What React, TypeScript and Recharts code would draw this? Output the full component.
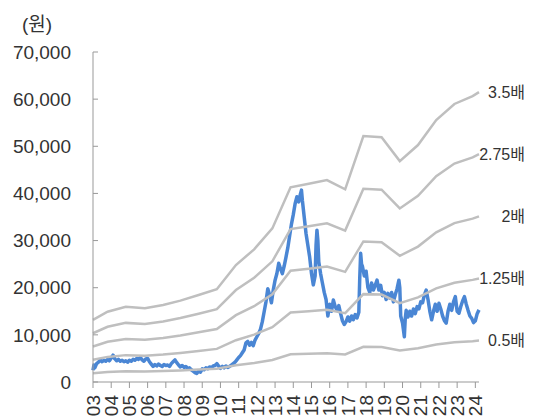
import { LineChart, Line, XAxis, YAxis, LabelList } from 'recharts';

const FONT = '"Liberation Sans", Arial, "Noto Sans CJK KR", sans-serif';

// book value per share, read at each fiscal year-end
const bpsYears = [
  2003.0, 2003.8, 2004.8, 2005.85, 2006.85, 2007.8, 2008.8, 2009.8, 2010.85, 2011.85, 2012.85,
  2013.85, 2014.85, 2015.85, 2016.85, 2017.85, 2018.85, 2019.85, 2020.85, 2021.85, 2022.85,
  2023.85, 2024.2,
];
const bpsValues = [
  3760, 4260, 4560, 4470, 4670, 4930, 5270, 5620, 7090, 8040, 9310,
  11800, 12020, 12240, 11680, 14910, 14830, 13390, 14360, 15880, 16850,
  17330, 17570,
];

// PBR multiples for the band lines
const multiples = [0.5, 1.25, 2, 2.75, 3.5];
const bandLabels = ['0.5배', '1.25배', '2배', '2.75배', '3.5배'];

// share price (원)
const priceYears = [
  2003.0, 2003.05, 2003.1, 2003.2, 2003.3, 2003.4, 2003.5, 2003.6, 2003.7, 2003.8, 2003.9,
  2004.0, 2004.1, 2004.2, 2004.3, 2004.4, 2004.5, 2004.6, 2004.7, 2004.8, 2004.9,
  2005.0, 2005.1, 2005.2, 2005.3, 2005.4, 2005.5, 2005.6, 2005.7, 2005.8, 2005.9,
  2006.0, 2006.1, 2006.2, 2006.3, 2006.4, 2006.5, 2006.6, 2006.7, 2006.8, 2006.9,
  2007.0, 2007.1, 2007.2, 2007.3, 2007.4, 2007.5, 2007.6, 2007.7, 2007.8, 2007.9,
  2008.0, 2008.1, 2008.2, 2008.3, 2008.4, 2008.5, 2008.6, 2008.7, 2008.8, 2008.9,
  2009.0, 2009.1, 2009.2, 2009.3, 2009.4, 2009.5, 2009.6, 2009.7, 2009.8, 2009.9,
  2010.0, 2010.1, 2010.2, 2010.3, 2010.4, 2010.5, 2010.6, 2010.7, 2010.8, 2010.9,
  2011.0, 2011.1, 2011.2, 2011.3, 2011.4, 2011.5, 2011.6, 2011.7, 2011.8, 2011.9,
  2012.0, 2012.1, 2012.2, 2012.3, 2012.4, 2012.5, 2012.6, 2012.7, 2012.8, 2012.9,
  2013.0, 2013.1, 2013.2, 2013.3, 2013.4, 2013.5, 2013.6, 2013.7, 2013.8, 2013.9,
  2014.0, 2014.1, 2014.2, 2014.3, 2014.4, 2014.45, 2014.5, 2014.6, 2014.7, 2014.8, 2014.9,
  2015.0, 2015.1, 2015.2, 2015.25, 2015.3, 2015.35, 2015.4, 2015.5, 2015.6, 2015.7, 2015.8, 2015.9,
  2016.0, 2016.1, 2016.2, 2016.3, 2016.4, 2016.5, 2016.6, 2016.7, 2016.8, 2016.9,
  2017.0, 2017.1, 2017.2, 2017.3, 2017.4, 2017.5, 2017.6, 2017.65, 2017.7, 2017.75, 2017.8, 2017.9,
  2018.0, 2018.1, 2018.2, 2018.3, 2018.4, 2018.5, 2018.6, 2018.7, 2018.8, 2018.9,
  2019.0, 2019.1, 2019.2, 2019.3, 2019.4, 2019.5, 2019.6, 2019.7, 2019.8, 2019.85, 2019.9,
  2020.0, 2020.1, 2020.15, 2020.2, 2020.3, 2020.4, 2020.5, 2020.6, 2020.7, 2020.8, 2020.9,
  2021.0, 2021.1, 2021.2, 2021.3, 2021.4, 2021.5, 2021.6, 2021.7, 2021.8, 2021.9,
  2022.0, 2022.1, 2022.2, 2022.3, 2022.4, 2022.5, 2022.6, 2022.7, 2022.8, 2022.9,
  2023.0, 2023.1, 2023.2, 2023.3, 2023.4, 2023.5, 2023.6, 2023.7, 2023.8, 2023.9,
  2024.0, 2024.1, 2024.2,
];
const priceValues = [
  2500, 3600, 3000, 3900, 4200, 4700, 4300, 4600, 4400, 4800, 4500,
  5100, 5700, 4900, 4500, 4800, 4400, 4600, 4300, 4500, 4200,
  4600, 4400, 4800, 4600, 5000, 4800, 5200, 4700, 4400, 4900,
  5000, 4300, 3800, 3300, 3700, 3400, 3800, 3500, 3300, 3700,
  3500, 3600, 3300, 3900, 4300, 4700, 4100, 3600, 3200, 3500,
  3100, 3300, 2900, 3000, 2600, 2300, 2000, 1800, 2300, 2100,
  2800, 2600, 3000, 2800, 3200, 3000, 3400, 3500, 3900, 3400,
  2900, 3300, 3000, 3400, 3100, 3300, 3600, 3900, 4200, 4700,
  5200, 5600, 6200, 6800, 8300, 8600, 7800, 8400, 7700, 8900,
  9600, 10300, 11200, 12800, 14900, 17000, 19800, 18500, 16800, 19500,
  21600, 23000, 25200, 24000, 23000, 24600, 26500, 28500, 31000, 33500,
  35500, 37800, 39300, 38200, 40000, 40700, 38500, 35000, 31500, 29000, 26500,
  23000, 20600, 22500, 29000, 32200, 30000, 25500, 23000, 21000, 19000, 17500, 14000,
  16500, 15000, 17400, 16000, 15200, 16200, 14500, 13000, 12200, 12800,
  13800, 12900, 14000, 13200, 14300, 13600, 14800, 22000, 27300, 25000, 24500, 22500,
  23500, 20000, 19000, 21000, 19500, 20500, 21600, 19500, 20500, 18300,
  19000, 17500, 18800, 17800, 19000, 17000, 18500, 19800, 21600, 20000, 14000,
  12500, 9600, 13500, 15200, 13800, 15000, 14000, 15500, 14500, 16000, 15500,
  17000, 16800, 18500, 19500, 17500, 15000, 13200, 15000, 16500, 15000,
  16700, 15500, 14000, 13000, 12500, 15000, 16500, 15200, 17000, 18100,
  15000, 14600, 16000, 17200, 18100, 16500, 15200, 14000, 13500, 12600,
  13000, 14500, 15300,
];

const yearTicks = [
  2003, 2004, 2005, 2006, 2007, 2008, 2009, 2010, 2011, 2012, 2013,
  2014, 2015, 2016, 2017, 2018, 2019, 2020, 2021, 2022, 2023, 2024,
];
const priceTicks = [0, 10000, 20000, 30000, 40000, 50000, 60000, 70000];

const priceData = priceYears.map((t, i) => ({ t, price: priceValues[i] }));
const bands = multiples.map((m, k) => ({
  key: `band${k}`,
  data: bpsYears.map((t, i) => ({
    t,
    v: bpsValues[i] * m,
    name: i === bpsYears.length - 1 ? bandLabels[k] : '',
  })),
}));

function YTick({ x, y, payload }: any) {
  return (
    <g>
      <line x1={x} x2={x + 5} y1={y} y2={y} stroke="#999" />
      <text x={x - 22} y={y} dy="0.35em" textAnchor="end" fontSize={19} fill="#333" fontFamily={FONT}>
        {payload.value.toLocaleString('en-US')}
      </text>
    </g>
  );
}

function XTick({ x, y, payload }: any) {
  const label = String(payload.value).slice(2);
  return (
    <g transform={`translate(${x},${y + 5})`}>
      <text transform="rotate(-90)" textAnchor="end" dy="0.35em" fontSize={19} fill="#333" fontFamily={FONT}>
        {label}
      </text>
    </g>
  );
}

function BandLabel({ x, y, value }: any) {
  if (!value) return null;
  return (
    <text x={x + 46} y={y} dy="0.35em" textAnchor="end" fontSize={16} fill="#333" fontFamily={FONT}>
      {value}
    </text>
  );
}

export default function App() {
  return (
    <div style={{ position: 'absolute', left: 0, top: 0, width: 538, height: 417, background: '#fff' }}>
      <div style={{ position: 'absolute', left: 22, top: 9, fontSize: 19, color: '#333', fontFamily: FONT }}>
        (원)
      </div>
      <LineChart width={538} height={417} margin={{ top: 52, right: 59, left: 0, bottom: 0 }}>
        <XAxis
          type="number"
          dataKey="t"
          domain={[2003, 2024.2]}
          ticks={yearTicks}
          tick={<XTick />}
          stroke="#999"
          height={35}
          interval={0}
          allowDuplicatedCategory={false}
        />
        <YAxis
          type="number"
          domain={[0, 70000]}
          ticks={priceTicks}
          tick={<YTick />}
          tickLine={false}
          tickSize={0}
          tickMargin={0}
          stroke="#999"
          width={93}
          interval={0}
        />
        {/* daily price drawn thick so the noise reads as a band */}
        <Line
          data={priceData}
          dataKey="price"
          stroke="#4A86D4"
          strokeWidth={3.5}
          strokeLinejoin="round"
          dot={false}
          isAnimationActive={false}
        />
        {bands.map((b) => (
          <Line
            key={b.key}
            data={b.data}
            dataKey="v"
            stroke="#BFBFBF"
            strokeWidth={2.5}
            dot={false}
            isAnimationActive={false}
          >
            <LabelList dataKey="name" content={<BandLabel />} />
          </Line>
        ))}
      </LineChart>
    </div>
  );
}
